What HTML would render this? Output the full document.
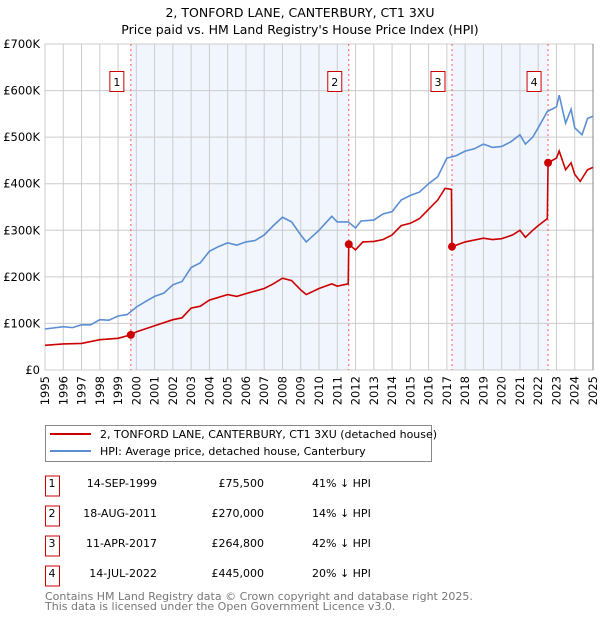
<!DOCTYPE html>
<html><head><meta charset="utf-8"><style>
body{margin:0;background:#fff;font-family:"Liberation Sans","DejaVu Sans",sans-serif;}
svg text{font-family:"DejaVu Sans","Liberation Sans",sans-serif;}
</style></head><body>
<svg id="c" width="600" height="620" xmlns="http://www.w3.org/2000/svg">
<text x="300" y="17" text-anchor="middle" font-size="12.5">2, TONFORD LANE, CANTERBURY, CT1 3XU</text>
<text x="300" y="34" text-anchor="middle" font-size="12.5">Price paid vs. HM Land Registry's House Price Index (HPI)</text>
<g id="plot"></g>
<g>
<rect x="45.5" y="425.5" width="386" height="36" fill="#fff" stroke="#888"/>
<line x1="50" y1="434" x2="91" y2="434" stroke="#cc0000" stroke-width="2"/>
<text x="100" y="438" font-size="11">2, TONFORD LANE, CANTERBURY, CT1 3XU (detached house)</text>
<line x1="50" y1="451" x2="91" y2="451" stroke="#5b8fd4" stroke-width="2"/>
<text x="100" y="455" font-size="11">HPI: Average price, detached house, Canterbury</text>
</g>
<g id="table"></g>
<text x="45" y="600" font-size="11" fill="#777">Contains HM Land Registry data © Crown copyright and database right 2025.</text>
<text x="45" y="610" font-size="11" fill="#777">This data is licensed under the Open Government Licence v3.0.</text>
</svg>
<script>
const hpiT=[1995,1996,1996.5,1997,1997.5,1998,1998.5,1999,1999.5,2000,2000.5,2001,2001.5,2002,2002.5,2003,2003.5,2004,2004.5,2005,2005.5,2006,2006.5,2007,2007.5,2008,2008.5,2009,2009.3,2010,2010.7,2011,2011.6,2012,2012.3,2013,2013.5,2014,2014.5,2015,2015.5,2016,2016.5,2017,2017.5,2018,2018.5,2019,2019.5,2020,2020.5,2021,2021.3,2021.7,2022,2022.5,2023,2023.15,2023.5,2023.8,2024,2024.4,2024.7,2025];
const hpiV=[88,93,91,97,97,108,107,116,119,135,147,158,165,183,190,220,230,255,265,273,268,275,278,290,310,328,318,290,275,300,330,318,318,305,320,322,335,340,365,375,382,400,415,455,460,470,475,485,478,480,490,505,485,500,520,555,565,590,530,560,520,505,540,545];
const ppT=[1995,1996,1997,1998,1999,1999.7,2000,2001,2002,2002.5,2003,2003.5,2004,2005,2005.5,2006,2007,2007.5,2008,2008.5,2009,2009.3,2010,2010.7,2011,2011.6,2011.63,2012,2012.4,2013,2013.5,2014,2014.5,2015,2015.5,2016,2016.5,2016.9,2017.25,2017.28,2018,2019,2019.5,2020,2020.6,2021,2021.3,2021.7,2022,2022.5,2022.54,2023,2023.15,2023.5,2023.8,2024,2024.3,2024.7,2025];
const ppV=[53,56,57,65,68,75.5,82,95,108,112,133,137,150,162,158,164,175,185,197,192,172,162,175,185,180,185,270,258,275,276,280,290,310,315,325,345,365,390,388,264.8,275,283,280,282,290,300,285,300,310,325,445,455,470,430,445,420,405,430,435];
const saleT=[1999.70,2011.63,2017.28,2022.54];
const saleV=[75.5,270,264.8,445];
const saleLabels=["1","2","3","4"];
const saleDates=["14-SEP-1999","18-AUG-2011","11-APR-2017","14-JUL-2022"];
const salePrices=["£75,500","£270,000","£264,800","£445,000"];
const salePct=["41% ↓ HPI","14% ↓ HPI","42% ↓ HPI","20% ↓ HPI"];
const yTicks=[0,100,200,300,400,500,600,700];
const yTickLabels=["£0","£100K","£200K","£300K","£400K","£500K","£600K","£700K"];
const xYears=[1995,1996,1997,1998,1999,2000,2001,2002,2003,2004,2005,2006,2007,2008,2009,2010,2011,2012,2013,2014,2015,2016,2017,2018,2019,2020,2021,2022,2023,2024,2025];
const X0=45,X1=593,Y0=370,Y1=44;
const x=t=>X0+(t-1995)/30*(X1-X0);
const y=v=>Y0-v/700*(Y0-Y1);
const NS="http://www.w3.org/2000/svg";
const plot=document.getElementById('plot');
function mk(tag,at,parent){const e=document.createElementNS(NS,tag);for(const k in at)e.setAttribute(k,at[k]);(parent||plot).appendChild(e);return e;}
// shading
for(let i=0;i<saleT.length;i+=2){
 const end=saleT[i+1];
 const r=mk('rect',{x:x(saleT[i]),y:Y1,width:x(end)-x(saleT[i]),height:Y0-Y1,fill:'#eef3fc',opacity:0.8});
 
 
}
xYears.forEach(t=>{const l=mk('line',{x1:x(t),x2:x(t),y1:Y1,y2:Y0,stroke:'#ccc','stroke-width':1});
 
 
 const tx=mk('text',{transform:`translate(${x(t)+4},376) rotate(-90)`,'text-anchor':'end','font-size':11.5});
 tx.textContent=t;
 
 });
yTicks.forEach((v,i)=>{const l=mk('line',{x1:X0,x2:X1,y1:y(v),y2:y(v),stroke:'#ccc','stroke-width':1});
 
 
 const tx=mk('text',{x:40,y:y(v)+4,'text-anchor':'end','font-size':11.5});
 tx.textContent=yTickLabels[i];
 
 });
const b=mk('rect',{x:X0,y:Y1,width:X1-X0,height:Y0-Y1,fill:'none',stroke:'#ccc'});


const ax=mk('line',{x1:X1,x2:X1,y1:Y1,y2:Y0,stroke:'#888'});


saleT.forEach((t,i)=>{const l=mk('line',{x1:x(t),x2:x(t),y1:Y1,y2:Y0,stroke:'#f55','stroke-dasharray':'2,3','stroke-width':1});
 
 
 const r=mk('rect',{x:x(t)-21,y:71.5,width:14,height:20,fill:'#fff',stroke:'#c00'});
 
 
 const tx=mk('text',{x:x(t)-14,y:86,'text-anchor':'middle','font-size':11});
 tx.textContent=saleLabels[i];
 
 });
const hp=mk('polyline',{points:hpiT.map((t,i)=>x(t)+','+y(hpiV[i])).join(' '),fill:'none',stroke:'#5b8fd4','stroke-width':1.6});


const pp=mk('polyline',{points:ppT.map((t,i)=>x(t)+','+y(ppV[i])).join(' '),fill:'none',stroke:'#cc0000','stroke-width':1.6});


saleT.forEach((t,i)=>{const c=mk('circle',{cx:x(t),cy:y(saleV[i]),r:4,fill:'#cc0000'});
 
 });
const tb=document.getElementById('table');
saleT.forEach((t,i)=>{const yy=483+i*30;
 const r=mk('rect',{x:45.5,y:yy-27+20,width:14,height:20,fill:'#fff',stroke:'#c00'},tb);
 
 
 const cols=[[52,saleLabels[i],'middle'],[157,saleDates[i],'end'],[264,salePrices[i],'end'],[312,salePct[i],'start']];
 cols.forEach(c=>{const tx=mk('text',{x:c[0],y:yy+4,'text-anchor':c[2],'font-size':11},tb);
  tx.textContent=c[1];
  
  });
});
</script>
</body></html>
